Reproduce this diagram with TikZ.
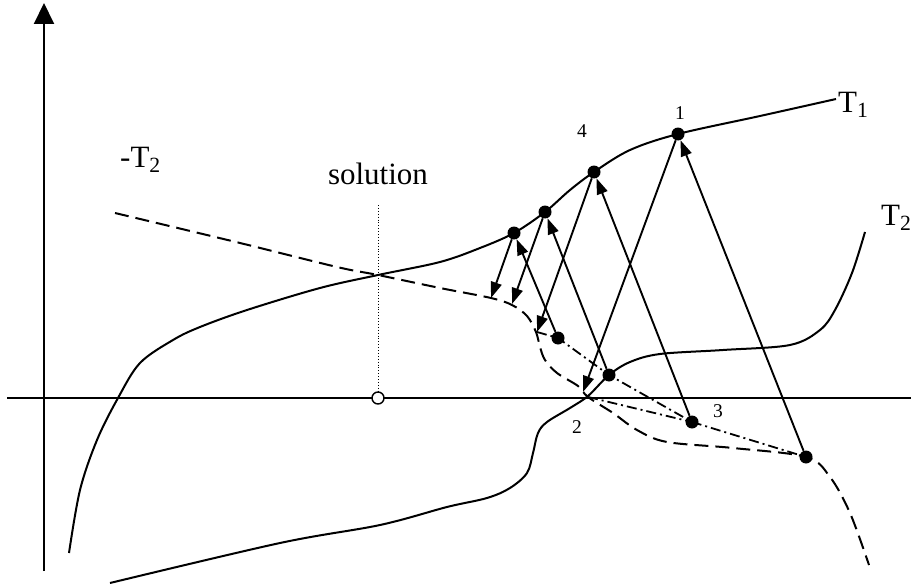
\documentclass[tikz,border=0pt]{standalone}
\usepackage{fontspec}
\setmainfont{Liberation Serif}
\usetikzlibrary{arrows.meta}
\begin{document}
\begin{tikzpicture}[x=1pt,y=-1pt,
  curve/.style={line width=2pt},
  dashcurve/.style={line width=2pt, dash pattern=on 14pt off 7pt},
  dashdot/.style={line width=1.8pt, dash pattern=on 10pt off 4pt on 2pt off 4pt},
  iter/.style={line width=1.9pt, -{Triangle[length=16pt,width=11pt]}},
  dotpt/.style={circle, fill=black, inner sep=0pt, minimum size=13pt},
  big/.style={font=\fontsize{31}{35}\selectfont, inner sep=0pt},
  small/.style={font=\fontsize{19.5}{22}\selectfont, inner sep=0pt}]
\useasboundingbox (0,0) rectangle (911,586);

% axes
\coordinate (yb) at (44,571);
\coordinate (yt) at (44,3);
\draw[line width=2pt, -{Triangle[length=21pt,width=20pt]}] (yb) -- (yt);
\coordinate (xl) at (7,398);
\coordinate (xr) at (911,398);
\draw[line width=2pt] (xl) -- (xr);

% T1
\draw[curve] plot[smooth, tension=0.55] coordinates {(69,553) (80,490) (97,440) (118,398) (140,363) (173,340) (200,327) (247,310) (320,288) (378,275) (440,262) (480,248) (514,233) (545,212) (570,190) (594,172) (630,150) (678,134) (760,116) (836,99)};

% T2
\draw[curve] plot[smooth, tension=0.55] coordinates {(110,583) (280,543) (380,525) (447,507) (487,498) (510,488) (527,473) (533,453) (538,433) (547,422) (570,408) (588,396) (609,375) (630,362) (660,354) (723,350) (790,345) (820,330) (835,310) (852,273) (865,232)};

% -T2
\draw[dashcurve] plot[smooth, tension=0.55] coordinates {(115,213) (240,243) (337,267) (378,275) (440,288) (491,298) (512,305) (527,316) (536,332) (540,347) (545,360) (557,373) (578,386) (588,397) (613,413) (637,430) (667,442) (733,448) (806,457) (830,477) (850,513) (869,565)};

% solution marker
\node[circle, draw, fill=white, line width=1.4pt, minimum size=12pt, inner sep=0pt] (sol) at (378,398) {};
\coordinate (soltop) at (378,205);
\draw[line width=0.9pt, dotted] (soltop) -- (sol);
\node[big, anchor=base] (soltext) at (378,184) {solution};

% iteration points
\node[dotpt] (p1) at (678,134) {};
\node[dotpt] (p4) at (594,172) {};
\node[dotpt] (pa) at (545,212) {};
\node[dotpt] (pb) at (514,233) {};
\node[dotpt] (qa) at (558,338) {};
\node[dotpt] (qb) at (609,375) {};
\node[dotpt] (d3) at (692,422) {};
\node[dotpt] (dbr) at (806,457) {};
\coordinate (m1) at (491,298);
\coordinate (m2) at (512,304);
\coordinate (m3) at (537,332);
\coordinate (m4) at (583,392);
\coordinate (c2) at (588,397);

% dash-dot paths
\draw[dashdot] (m3) -- (qa.center) -- (qb.center) -- (d3.center) -- (dbr.center);
\draw[dashdot] (c2) -- (d3.center);

% arrows
\draw[iter] (pb) -- (m1);
\draw[iter] (pa) -- (m2);
\draw[iter] (qa) -- (pb);
\draw[iter] (qb) -- (pa);
\draw[iter] (p4) -- (m3);
\draw[iter] (p1) -- (m4);
\draw[iter] (d3) -- (p4);
\draw[iter] (dbr) -- (p1);

% labels
\node[big, anchor=base west] (lt1) at (838,112) {T\textsubscript{1}};
\node[big, anchor=base west] (lt2) at (881,225) {T\textsubscript{2}};
\node[big, anchor=base west] (lmt2) at (120,167) {-T\textsubscript{2}};
\node[small] (n1) at (680,113) {1};
\node[small] (n4) at (582,131) {4};
\node[small] (n3) at (718,411) {3};
\node[small] (n2) at (577,427) {2};
\end{tikzpicture}
\end{document}
